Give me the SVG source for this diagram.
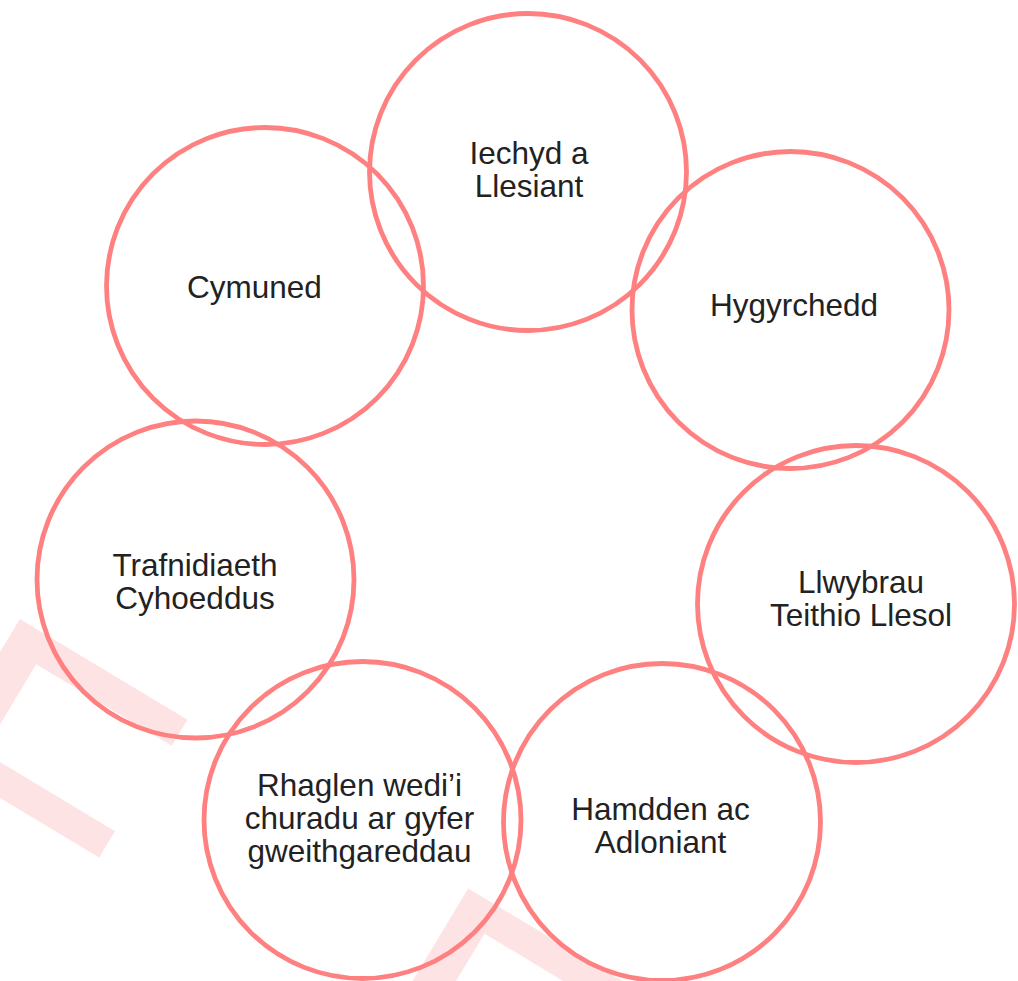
<svg xmlns="http://www.w3.org/2000/svg" width="1018" height="981" viewBox="0 0 1018 981">
<style>
.node circle{fill:none;stroke:#ff8080;stroke-width:4.8}
.node text{font-family:"Liberation Sans",Arial,sans-serif;font-size:31.5px;fill:#222222;text-anchor:middle}
.wm{font-family:"Liberation Sans",Arial,sans-serif;font-size:400px;fill:#fde3e4}
</style>
<rect width="1018" height="981" fill="#ffffff"/>
<g id="watermark">
<text class="wm" transform="translate(-150,838) rotate(31)"><tspan x="0" y="0">F</tspan><tspan x="523" y="0">F</tspan></text>
</g>
<g id="connectors"></g>
<g id="n1" class="node"><circle cx="528" cy="172" r="158.5"/><text x="529" y="164">Iechyd a</text><text x="529" y="197">Llesiant</text></g>
<g id="n2" class="node"><circle cx="790.5" cy="310" r="158.5"/><text x="794" y="316">Hygyrchedd</text></g>
<g id="n3" class="node"><circle cx="856" cy="604" r="158.5"/><text x="861" y="593">Llwybrau</text><text x="861" y="626">Teithio Llesol</text></g>
<g id="n4" class="node"><circle cx="662" cy="822" r="158.5"/><text x="660.5" y="820">Hamdden ac</text><text x="660.5" y="853">Adloniant</text></g>
<g id="n5" class="node"><circle cx="362.5" cy="820" r="158.5"/><text x="359.5" y="796">Rhaglen wedi’i</text><text x="359.5" y="829">churadu ar gyfer</text><text x="359.5" y="862">gweithgareddau</text></g>
<g id="n6" class="node"><circle cx="195.5" cy="579.5" r="158.5"/><text x="195" y="576">Trafnidiaeth</text><text x="195" y="609">Cyhoeddus</text></g>
<g id="n7" class="node"><circle cx="265" cy="286" r="158.5"/><text x="254.5" y="298">Cymuned</text></g>
</svg>
